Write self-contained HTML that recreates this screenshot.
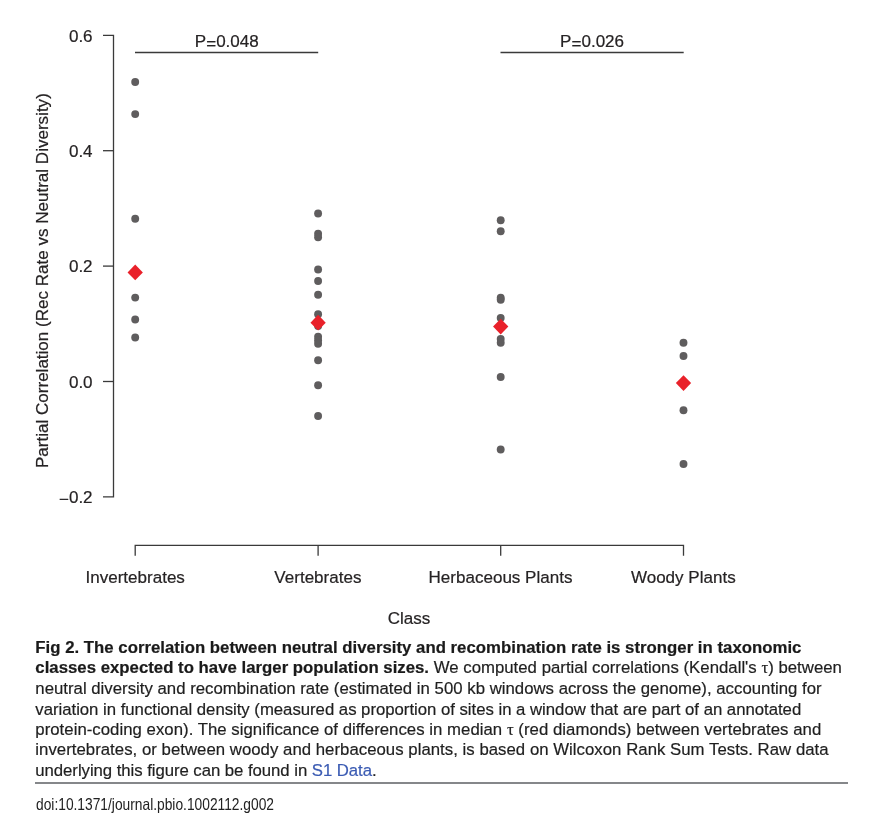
<!DOCTYPE html>
<html><head><meta charset="utf-8"><title>Fig 2</title>
<style>
html,body{margin:0;padding:0;background:#fff;}
body{width:887px;height:825px;position:relative;overflow:hidden;font-family:"Liberation Sans",Arial,Helvetica,sans-serif;color:#1f1f1f;}
.ln{position:absolute;left:35.3px;-webkit-text-stroke-width:0.2px;white-space:nowrap;font-size:16.75px;line-height:20px;height:20px;}
.ln b{font-weight:bold;color:#1a1a1a;}
.tau{font-family:"Liberation Serif","DejaVu Serif",serif;}
.lnk{color:#3b5bb3;}
.rule{position:absolute;left:35px;top:782.2px;width:812.6px;height:1.5px;background:#85878a;}
.doi{position:absolute;left:36px;top:794.2px;font-size:16.5px;line-height:20px;white-space:nowrap;transform-origin:0 0;transform:scaleX(0.835);color:#222;}
</style></head><body>
<svg width="887" height="640" viewBox="0 0 887 640" style="position:absolute;left:0;top:0">
<g stroke="#3a3a3a" stroke-width="1.3" fill="none">
<path d="M103 35.3 H113.5 V496.9 H103" stroke-linejoin="miter"/>
<path d="M103 150.7 H113.5"/>
<path d="M103 266.1 H113.5"/>
<path d="M103 381.5 H113.5"/>
<path d="M135.2 555.7 V545.4 H683.5 V555.7" stroke-linejoin="miter"/>
<path d="M318.1 545.4 V555.7"/>
<path d="M500.7 545.4 V555.7"/>
<path d="M135 52.5 H318.2"/>
<path d="M500.5 52.5 H683.7"/>
</g>
<g fill="#5f5d5e">
<circle cx="135.2" cy="81.95" r="3.95"/>
<circle cx="135.2" cy="114.10" r="3.95"/>
<circle cx="135.2" cy="218.80" r="3.95"/>
<circle cx="135.2" cy="297.60" r="3.95"/>
<circle cx="135.2" cy="319.50" r="3.95"/>
<circle cx="135.2" cy="337.50" r="3.95"/>
<circle cx="318.1" cy="213.45" r="3.95"/>
<circle cx="318.1" cy="233.70" r="3.95"/>
<circle cx="318.1" cy="237.20" r="3.95"/>
<circle cx="318.1" cy="269.45" r="3.95"/>
<circle cx="318.1" cy="280.95" r="3.95"/>
<circle cx="318.1" cy="294.80" r="3.95"/>
<circle cx="318.1" cy="314.20" r="3.95"/>
<circle cx="318.1" cy="326.00" r="3.95"/>
<circle cx="318.1" cy="336.80" r="3.95"/>
<circle cx="318.1" cy="340.20" r="3.95"/>
<circle cx="318.1" cy="343.80" r="3.95"/>
<circle cx="318.1" cy="360.20" r="3.95"/>
<circle cx="318.1" cy="385.20" r="3.95"/>
<circle cx="318.1" cy="415.95" r="3.95"/>
<circle cx="500.7" cy="220.20" r="3.95"/>
<circle cx="500.7" cy="231.20" r="3.95"/>
<circle cx="500.7" cy="297.70" r="3.95"/>
<circle cx="500.7" cy="299.80" r="3.95"/>
<circle cx="500.7" cy="318.00" r="3.95"/>
<circle cx="500.7" cy="338.95" r="3.95"/>
<circle cx="500.7" cy="342.70" r="3.95"/>
<circle cx="500.7" cy="376.95" r="3.95"/>
<circle cx="500.7" cy="449.45" r="3.95"/>
<circle cx="683.5" cy="342.70" r="3.95"/>
<circle cx="683.5" cy="355.95" r="3.95"/>
<circle cx="683.5" cy="410.20" r="3.95"/>
<circle cx="683.5" cy="463.95" r="3.95"/>
</g>
<g fill="#e9212a">
<path d="M135.2 264.55 L142.85 272.40 L135.2 280.25 L127.55 272.40 Z"/>
<path d="M318.1 314.85 L325.75 322.70 L318.1 330.55 L310.45 322.70 Z"/>
<path d="M500.7 318.70 L508.35 326.55 L500.7 334.40 L493.05 326.55 Z"/>
<path d="M683.5 375.20 L691.15 383.05 L683.5 390.90 L675.85 383.05 Z"/>
</g>
<g fill="#262324" font-family="'Liberation Sans', Arial, Helvetica, sans-serif" font-size="17.05px" stroke="#262324" stroke-width="0.2">
<text x="92.6" y="41.5" text-anchor="end">0.6</text>
<text x="92.6" y="156.89999999999998" text-anchor="end">0.4</text>
<text x="92.6" y="272.3" text-anchor="end">0.2</text>
<text x="92.6" y="387.7" text-anchor="end">0.0</text>
<text x="92.6" y="503.09999999999997" text-anchor="end"><tspan dy="2">−</tspan><tspan dy="-2">0.2</tspan></text>
<text x="226.8" y="46.8" text-anchor="middle">P<tspan dy="1.8">=</tspan><tspan dy="-1.8">0.048</tspan></text>
<text x="592.1" y="46.8" text-anchor="middle">P<tspan dy="1.8">=</tspan><tspan dy="-1.8">0.026</tspan></text>
<text x="135.2" y="582.7" text-anchor="middle">Invertebrates</text>
<text x="317.9" y="582.7" text-anchor="middle">Vertebrates</text>
<text x="500.5" y="582.7" text-anchor="middle">Herbaceous Plants</text>
<text x="683.3" y="582.7" text-anchor="middle">Woody Plants</text>
<text x="409" y="623.6" text-anchor="middle">Class</text>
<text transform="translate(47.6,280.6) rotate(-90)" text-anchor="middle">Partial Correlation (Rec Rate vs Neutral Diversity)</text>
</g>
</svg>
<div class="ln" id="l0" style="top:637.80px;letter-spacing:0.0205px"><b>Fig 2. The correlation between neutral diversity and recombination rate is stronger in taxonomic</b></div>
<div class="ln" id="l1" style="top:657.80px;letter-spacing:0.0184px"><b>classes expected to have larger population sizes.</b> We computed partial correlations (Kendall's <span class="tau">τ</span>) between</div>
<div class="ln" id="l2" style="top:678.80px;letter-spacing:0.0148px">neutral diversity and recombination rate (estimated in 500 kb windows across the genome), accounting for</div>
<div class="ln" id="l3" style="top:699.80px;letter-spacing:-0.0216px">variation in functional density (measured as proportion of sites in a window that are part of an annotated</div>
<div class="ln" id="l4" style="top:719.80px;letter-spacing:0.0315px">protein-coding exon). The significance of differences in median <span class="tau">τ</span> (red diamonds) between vertebrates and</div>
<div class="ln" id="l5" style="top:739.80px;letter-spacing:0.0316px">invertebrates, or between woody and herbaceous plants, is based on Wilcoxon Rank Sum Tests. Raw data</div>
<div class="ln" id="l6" style="top:760.80px;letter-spacing:-0.0501px">underlying this figure can be found in <span class="lnk">S1 Data</span>.</div>
<div class="rule"></div>
<div class="doi">doi:10.1371/journal.pbio.1002112.g002</div>
</body></html>
